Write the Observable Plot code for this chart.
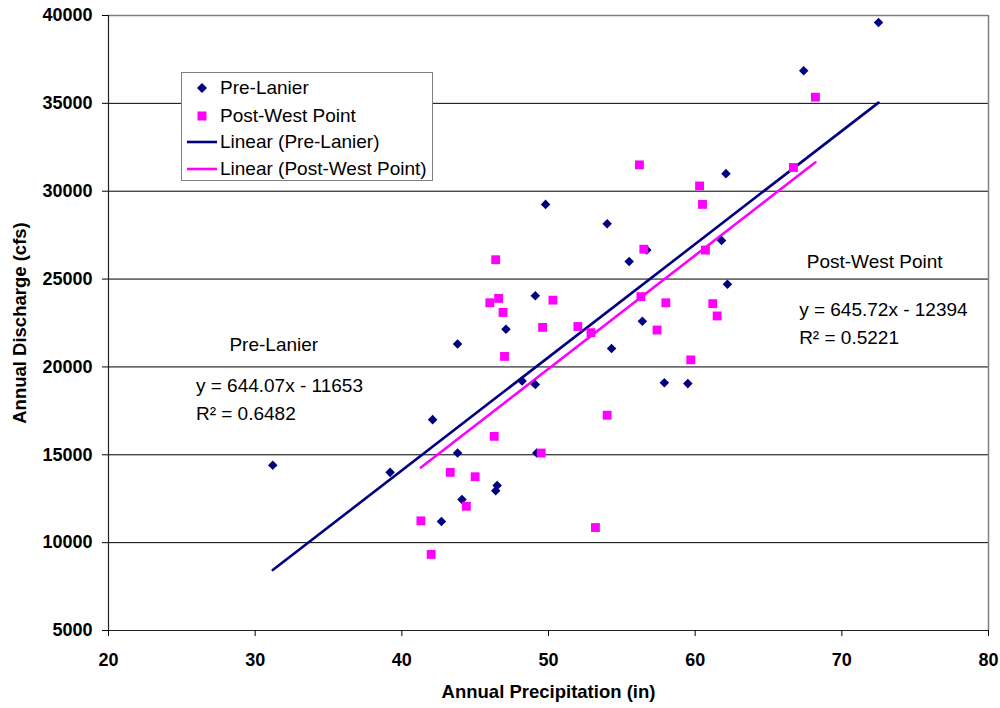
<!DOCTYPE html>
<html>
<head>
<meta charset="utf-8">
<script src="https://cdn.jsdelivr.net/npm/d3@7"></script>
<script src="https://cdn.jsdelivr.net/npm/@observablehq/plot@0.6"></script>
<style>
  html, body { margin: 0; padding: 0; background: #fff; }
  #wrap { position: relative; width: 1000px; height: 708px; font-family: "Liberation Sans", Arial, sans-serif; }
  #wrap svg { display: block; }
  #legend { position: absolute; left: 181px; top: 72px; width: 252px; height: 109px; border: 1px solid #808080; background: #fff; box-sizing: border-box; }
  .lrow { position: absolute; left: 0; height: 24px; display: flex; align-items: center; font-size: 19px; color: #000; white-space: nowrap; }
  .lrow svg { width: 38px; height: 24px; flex: none; }
</style>
</head>
<body>
<div id="wrap"></div>
<script>
// ---- data ----
const seriesNames = ["Pre-Lanier", "Post-West Point"];
const legendLabels = ["Pre-Lanier", "Post-West Point", "Linear (Pre-Lanier)", "Linear (Post-West Point)"];

const preX = [31.2, 39.2, 42.1, 43.8, 43.8, 44.1, 42.7, 46.5, 46.4, 49.2, 49.1, 47.1, 48.2, 49.1, 49.8,
              62.1, 54.0, 61.8, 56.7, 55.5, 62.2, 56.4, 54.3, 57.9, 59.5, 72.5, 67.4];
const preY = [14400, 14000, 17000, 21300, 15100, 12450, 11200, 13250, 12950, 15100, 24050, 22150, 19200, 19000, 29250,
              31000, 28150, 27200, 26650, 26000, 24700, 22600, 21050, 19100, 19050, 39600, 36850];

const postX = [46.0, 46.6, 46.9, 50.3, 49.6, 52.0, 52.9, 47.0, 46.3, 49.5, 46.4, 56.2, 60.3, 60.5, 56.5, 60.7,
               56.3, 58.0, 61.2, 61.5, 57.4, 59.7, 54.0, 43.3, 45.0, 44.4, 41.3, 42.0, 53.2, 68.2, 66.7];
const postY = [23650, 23900, 23100, 23800, 22250, 22300, 21950, 20600, 16050, 15100, 26100, 31500, 30300, 29250, 26700, 26650,
               24000, 23650, 23600, 22900, 22100, 20400, 17250, 14000, 13750, 12070, 11240, 9330, 10860, 35350, 31350];

const trendSlopes = [644.07, 645.72];
const trendIntercepts = [-11653, -12394];
const r2Values = ["0.6482", "0.5221"];

const xTicks = [20, 30, 40, 50, 60, 70, 80];
const yTicks = [5000, 10000, 15000, 20000, 25000, 30000, 35000, 40000];
const xTitle = "Annual Precipitation (in)";
const yTitle = "Annual Discharge (cfs)";

// annotation anchor points (data coordinates): series name (centred), equation and R² (left-aligned)
const nameX = [31.27, 72.24];
const nameY = [21270, 25990];
const eqX = [25.96, 67.09];
const eqY = [18940, 23260];
const r2Y = [17345, 21670];

// ---- derived tables ----
const pre = preX.map((x, i) => ({x, y: preY[i]}));
const post = postX.map((x, i) => ({x, y: postY[i]}));
function trend(xs, m, b) {
  const [x0, x1] = d3.extent(xs);
  return [{x: x0, y: m * x0 + b}, {x: x1, y: m * x1 + b}];
}
const trendPre = trend(preX, trendSlopes[0], trendIntercepts[0]);
const trendPost = trend(postX, trendSlopes[1], trendIntercepts[1]);
const fmtEq = (m, b) => `y = ${m.toFixed(2)}x ${b < 0 ? "-" : "+"} ${Math.abs(b)}`;
const nameLabels = seriesNames.map((t, i) => ({t, x: nameX[i], y: nameY[i]}));
const eqLabels = [0, 1].flatMap(i => [
  {t: fmtEq(trendSlopes[i], trendIntercepts[i]), x: eqX[i], y: eqY[i]},
  {t: `R² = ${r2Values[i]}`, x: eqX[i], y: r2Y[i]}
]);

const FONT = '"Liberation Sans", Arial, sans-serif';

const chart = Plot.plot({
  width: 1000,
  height: 708,
  marginLeft: 108,
  marginRight: 12,
  marginTop: 15,
  marginBottom: 78,
  style: {fontFamily: FONT, background: "#fff", overflow: "visible", color: "#000"},
  x: {domain: [20, 80]},
  y: {domain: [5000, 40000]},
  marks: [
    Plot.ruleY(yTicks.filter(v => v > 5000 && v < 40000), {stroke: "#000", strokeWidth: 1}),
    Plot.ruleY([40000], {stroke: "#808080", strokeWidth: 1.5}),
    Plot.ruleX([80], {stroke: "#808080", strokeWidth: 1.5}),
    Plot.ruleX([20], {stroke: "#222", strokeWidth: 1.2}),
    Plot.ruleY([5000], {stroke: "#222", strokeWidth: 1.2}),
    Plot.axisX({ticks: xTicks, tickSize: 6, tickPadding: 17, fontSize: 18, fontWeight: "bold",
                tickFormat: d => String(d), label: null}),
    Plot.axisY({ticks: yTicks, tickSize: 6, tickPadding: 10, fontSize: 18, fontWeight: "bold",
                tickFormat: d => String(d), label: null}),
    Plot.text([xTitle], {frameAnchor: "bottom", dy: 62, lineAnchor: "middle", textAnchor: "middle",
                         fontSize: 18.5, fontWeight: "bold"}),
    Plot.text([yTitle], {frameAnchor: "left", dx: -88, rotate: -90, lineAnchor: "middle", textAnchor: "middle",
                         fontSize: 18.5, fontWeight: "bold"}),
    Plot.line(trendPre, {x: "x", y: "y", stroke: "#000080", strokeWidth: 2.6}),
    Plot.line(trendPost, {x: "x", y: "y", stroke: "#FF00FF", strokeWidth: 2.6}),
    Plot.dot(pre, {x: "x", y: "y", symbol: "diamond2", r: 4.3, fill: "#000080", stroke: "none"}),
    Plot.dot(post, {x: "x", y: "y", symbol: "square", r: 5, fill: "#FF00FF", stroke: "none"}),
    Plot.text(nameLabels, {x: "x", y: "y", text: "t", textAnchor: "middle", lineAnchor: "middle",
                           fontSize: 19, fill: "#000"}),
    Plot.text(eqLabels, {x: "x", y: "y", text: "t", textAnchor: "start", lineAnchor: "middle",
                         fontSize: 19, fill: "#000"})
  ]
});

const wrap = document.getElementById("wrap");
wrap.appendChild(chart);

// ---- legend (HTML overlay) ----
const legend = document.createElement("div");
legend.id = "legend";
const rowTops = [3, 31, 57, 84];
const symbols = [
  '<svg viewBox="0 0 38 24"><polygon points="20,7 25,12 20,17 15,12" fill="#000080"/></svg>',
  '<svg viewBox="0 0 38 24"><rect x="15.5" y="7.5" width="9" height="9" fill="#FF00FF"/></svg>',
  '<svg viewBox="0 0 38 24"><line x1="5" y1="12" x2="35" y2="12" stroke="#000080" stroke-width="2.6"/></svg>',
  '<svg viewBox="0 0 38 24"><line x1="5" y1="12" x2="35" y2="12" stroke="#FF00FF" stroke-width="2.6"/></svg>'
];
legendLabels.forEach((lab, i) => {
  const row = document.createElement("div");
  row.className = "lrow";
  row.style.top = rowTops[i] + "px";
  row.innerHTML = symbols[i] + "<span></span>";
  row.querySelector("span").textContent = lab;
  legend.appendChild(row);
});
wrap.appendChild(legend);
</script>
</body>
</html>
